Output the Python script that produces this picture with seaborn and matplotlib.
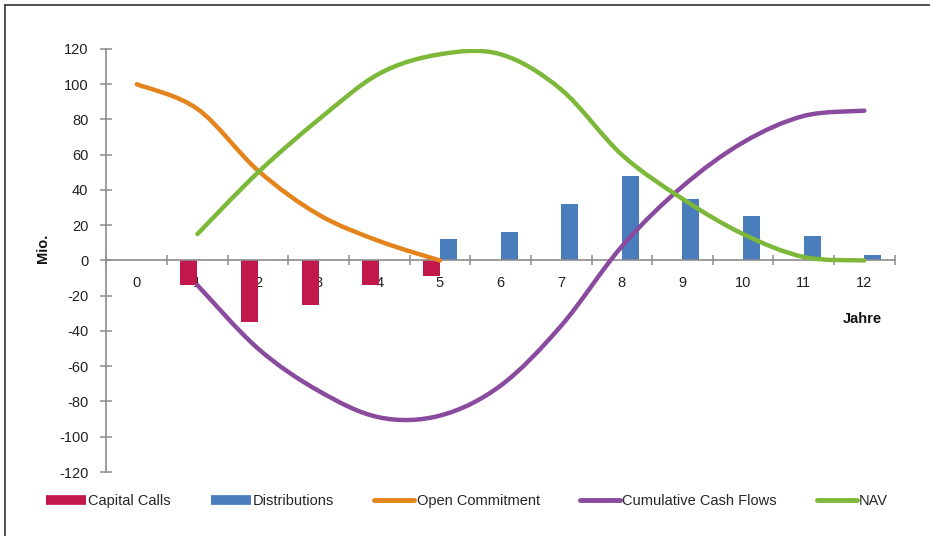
import numpy as np
import pandas as pd
import matplotlib
matplotlib.use("Agg")
import matplotlib.pyplot as plt
from matplotlib.path import Path
from matplotlib.patches import PathPatch
from matplotlib.lines import Line2D
import seaborn as sns

# ---------------- data ----------------
years = list(range(13))
capital_calls = [0, -14, -35, -25, -14, -9, 0, 0, 0, 0, 0, 0, 0]
distributions = [0, 0, 0, 0, 0, 12, 16, 32, 48, 35, 25, 14, 3]
oc_years = [0, 1, 2, 3, 4, 5]
open_commitment = [100, 86, 51, 26, 11, 0]
cf_years = [1, 2, 3, 4, 5, 6, 7, 8, 9, 10, 11, 12]
cumulative_cf = [-14, -50, -74, -89, -88, -71, -37, 8, 42, 67, 82, 85]
nav_years = [1, 2, 3, 4, 5, 6, 7, 8, 9, 10, 11, 12]
nav = [15, 50, 80, 106, 117, 117, 97, 60, 35, 15, 2, 0]
y_ticks = [-120, -100, -80, -60, -40, -20, 0, 20, 40, 60, 80, 100, 120]

C_RED = "#C2174B"
C_BLUE = "#4A7DBB"
C_ORANGE = "#E3841C"
C_PURPLE = "#8A4A9E"
C_GREEN = "#7DB83A"

sns.set_theme(style="white")
plt.rcParams["font.family"] = ["Liberation Sans", "DejaVu Sans"]

fig = plt.figure(figsize=(9.30, 5.36), dpi=100)
ax = fig.add_axes([0.1145, 0.1194, 0.8475, 0.7892])

bars = pd.DataFrame({
    "Jahr": years * 2,
    "Typ": ["Capital Calls"] * len(years) + ["Distributions"] * len(years),
    "Wert": capital_calls + distributions,
})
sns.barplot(data=bars, x="Jahr", y="Wert", hue="Typ", order=years,
            hue_order=["Capital Calls", "Distributions"],
            palette=[C_RED, C_BLUE], width=0.56, dodge=True,
            linewidth=0, saturation=1, legend=False, ax=ax)


def smooth_path(xs, ys):
    pts = np.column_stack([xs, ys]).astype(float)
    n = len(pts)
    verts = [pts[0]]
    codes = [Path.MOVETO]
    for i in range(n - 1):
        p0 = pts[i - 1] if i > 0 else pts[i]
        p1 = pts[i]
        p2 = pts[i + 1]
        p3 = pts[i + 2] if i + 2 < n else pts[i + 1]
        c1 = p1 + (p2 - p0) / 6.0
        c2 = p2 - (p3 - p1) / 6.0
        verts += [c1, c2, p2]
        codes += [Path.CURVE4] * 3
    return Path(verts, codes)


for xs, ys, col in [(oc_years, open_commitment, C_ORANGE),
                    (cf_years, cumulative_cf, C_PURPLE),
                    (nav_years, nav, C_GREEN)]:
    patch = PathPatch(smooth_path(xs, ys), facecolor="none", edgecolor=col,
                      linewidth=3.2, capstyle="round", joinstyle="round",
                      zorder=3)
    ax.add_patch(patch)

ax.set_xlim(-0.5, 12.5)
ax.set_ylim(-120, 120)
ax.set_yticks(y_ticks)
ax.set_yticklabels([str(v) for v in y_ticks])
ax.set_xticks(years)
ax.set_xticklabels([str(y) for y in years])
ax.set_xticks(np.arange(-0.5, 13, 1.0), minor=True)

for s in ["top", "right"]:
    ax.spines[s].set_visible(False)
ax.spines["bottom"].set_position(("data", 0))
for s in ["bottom", "left"]:
    ax.spines[s].set_color("#8C8C8C")
    ax.spines[s].set_linewidth(1.2)

ax.tick_params(axis="x", which="major", length=0, pad=11, labelsize=10.5,
               labelcolor="#222222")
ax.tick_params(axis="x", which="minor", length=7, direction="inout",
               color="#8C8C8C", width=1.1, bottom=True)
ax.tick_params(axis="y", which="major", length=8, direction="inout",
               color="#8C8C8C", width=1.1, left=True, pad=9,
               labelsize=10.5, labelcolor="#222222")
ax.set_xlabel("")
ax.set_ylabel("")

fig.text(0.046, 0.537, "Mio.", rotation=90, ha="center", va="center",
         fontsize=10.5, fontweight="bold", color="#111111")
fig.text(0.927, 0.405, "Jahre", ha="center", va="center",
         fontsize=10.5, fontweight="bold", color="#111111")

handles = [
    Line2D([], [], color=C_RED, lw=7, solid_capstyle="butt"),
    Line2D([], [], color=C_BLUE, lw=7, solid_capstyle="butt"),
    Line2D([], [], color=C_ORANGE, lw=3.5, solid_capstyle="round"),
    Line2D([], [], color=C_PURPLE, lw=3.5, solid_capstyle="round"),
    Line2D([], [], color=C_GREEN, lw=3.5, solid_capstyle="round"),
]
labels = ["Capital Calls", "Distributions", "Open Commitment",
          "Cumulative Cash Flows", "NAV"]
fig.legend(handles, labels, loc="center", bbox_to_anchor=(0.502, 0.065),
           ncol=5, frameon=False, fontsize=10.5, handlelength=2.75,
           handletextpad=0.15, columnspacing=2.75)

# frame lines at top and left of the picture
fig.add_artist(Line2D([0.005, 1.0], [0.991, 0.991], transform=fig.transFigure,
                      color="#333333", lw=1.2))
fig.add_artist(Line2D([0.005, 0.005], [0.0, 0.991], transform=fig.transFigure,
                      color="#333333", lw=1.2))

fig.savefig("out.png", dpi=100, facecolor="white")
